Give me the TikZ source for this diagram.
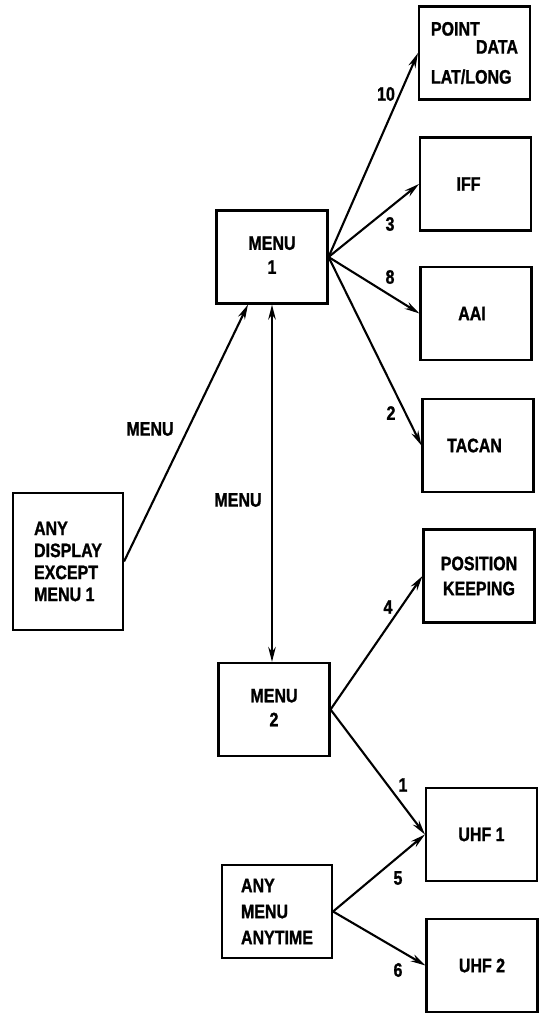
\documentclass[tikz,border=0pt]{standalone}
\usepackage{fontspec}
\setmainfont{Liberation Sans}[FakeStretch=0.83]
\newfontfamily\plate{Liberation Sans Bold}[FakeStretch=0.82, FakeBold=1.2]
\usetikzlibrary{arrows.meta}
\newcommand{\stack}[2][0pt]{\raisebox{#1}{\begin{tabular}{@{}c@{}}#2\end{tabular}}}
\begin{document}
\begin{tikzpicture}[x=1pt,y=-1pt,
  txt/.style={font=\plate\fontsize{19.5}{24}\selectfont},
  box/.style={txt, draw, line width=2.1pt, minimum width=111pt,
    minimum height=93pt, inner sep=0pt, align=center},
  lbl/.style={txt, inner sep=0pt},
  link/.style={line width=2.1pt, -{Stealth[length=15pt,width=7.5pt]}},
  both/.style={line width=2.1pt, {Stealth[length=15pt,width=7.5pt]}-{Stealth[length=15pt,width=7.5pt]}},
]
\useasboundingbox (0,0) rectangle (540,1013);

% menu pages
\node[box] (m1) at (272,257) {\stack[-8pt]{MENU\\1}};
\node[box] (m2) at (274,709.5) {\stack[-5pt]{MENU\\2}};

% entry points
\node[box, minimum width=110pt, minimum height=137pt, align=left]
  (ad) at (68,561.5) {ANY\\[-2pt]DISPLAY\\[-2pt]EXCEPT\\[-2pt]MENU 1};
\node[box, minimum width=110pt, align=left]
  (am) at (277,911.5) {ANY\\[2pt]MENU\\[2pt]ANYTIME};

% destination displays
\node[box, align=left] (pd) at (474.5,53)
  {POINT\\[-6pt]\hspace*{45pt}DATA\\[6pt]LAT/LONG};
\node[box] (iff)   at (475.5,184)  {\hspace*{-14pt}IFF};
\node[box] (aai)   at (476,313.5)  {\hspace*{-8pt}AAI};
\node[box] (tacan) at (478,445.5)  {\hspace*{-7pt}TACAN};
\node[box] (pk)    at (479,576)    {POSITION\\[1pt]KEEPING};
\node[box] (uhf1)  at (481.5,834.5) {UHF 1};
\node[box] (uhf2)  at (482,965.5)  {UHF 2};

% transitions
\draw[link] (m1.east) -- (pd.west);
\draw[link] (m1.east) -- (iff.west);
\draw[link] (m1.east) -- (aai.west);
\draw[link] (m1.east) -- (tacan.west);
\draw[link] (ad.east) -- ([xshift=-24pt]m1.south);
\draw[both] (m1.south) -- (m1.south |- m2.north);
\draw[link] (m2.east) -- (pk.west);
\draw[link] (m2.east) -- (uhf1.west);
\draw[link] (am.east) -- (uhf1.west);
\draw[link] (am.east) -- (uhf2.west);

% key labels
\node[lbl] (kmenuA) at (150,429) {MENU};
\node[lbl] (kmenuB) at (238,500) {MENU};
\node[lbl] (k10) at (386,94)  {10};
\node[lbl] (k3)  at (390,224) {3};
\node[lbl] (k8)  at (390,277) {8};
\node[lbl] (k2)  at (391,413) {2};
\node[lbl] (k4)  at (388,607) {4};
\node[lbl] (k1)  at (403,785) {1};
\node[lbl] (k5)  at (398,878) {5};
\node[lbl] (k6)  at (398,970) {6};
\end{tikzpicture}
\end{document}
